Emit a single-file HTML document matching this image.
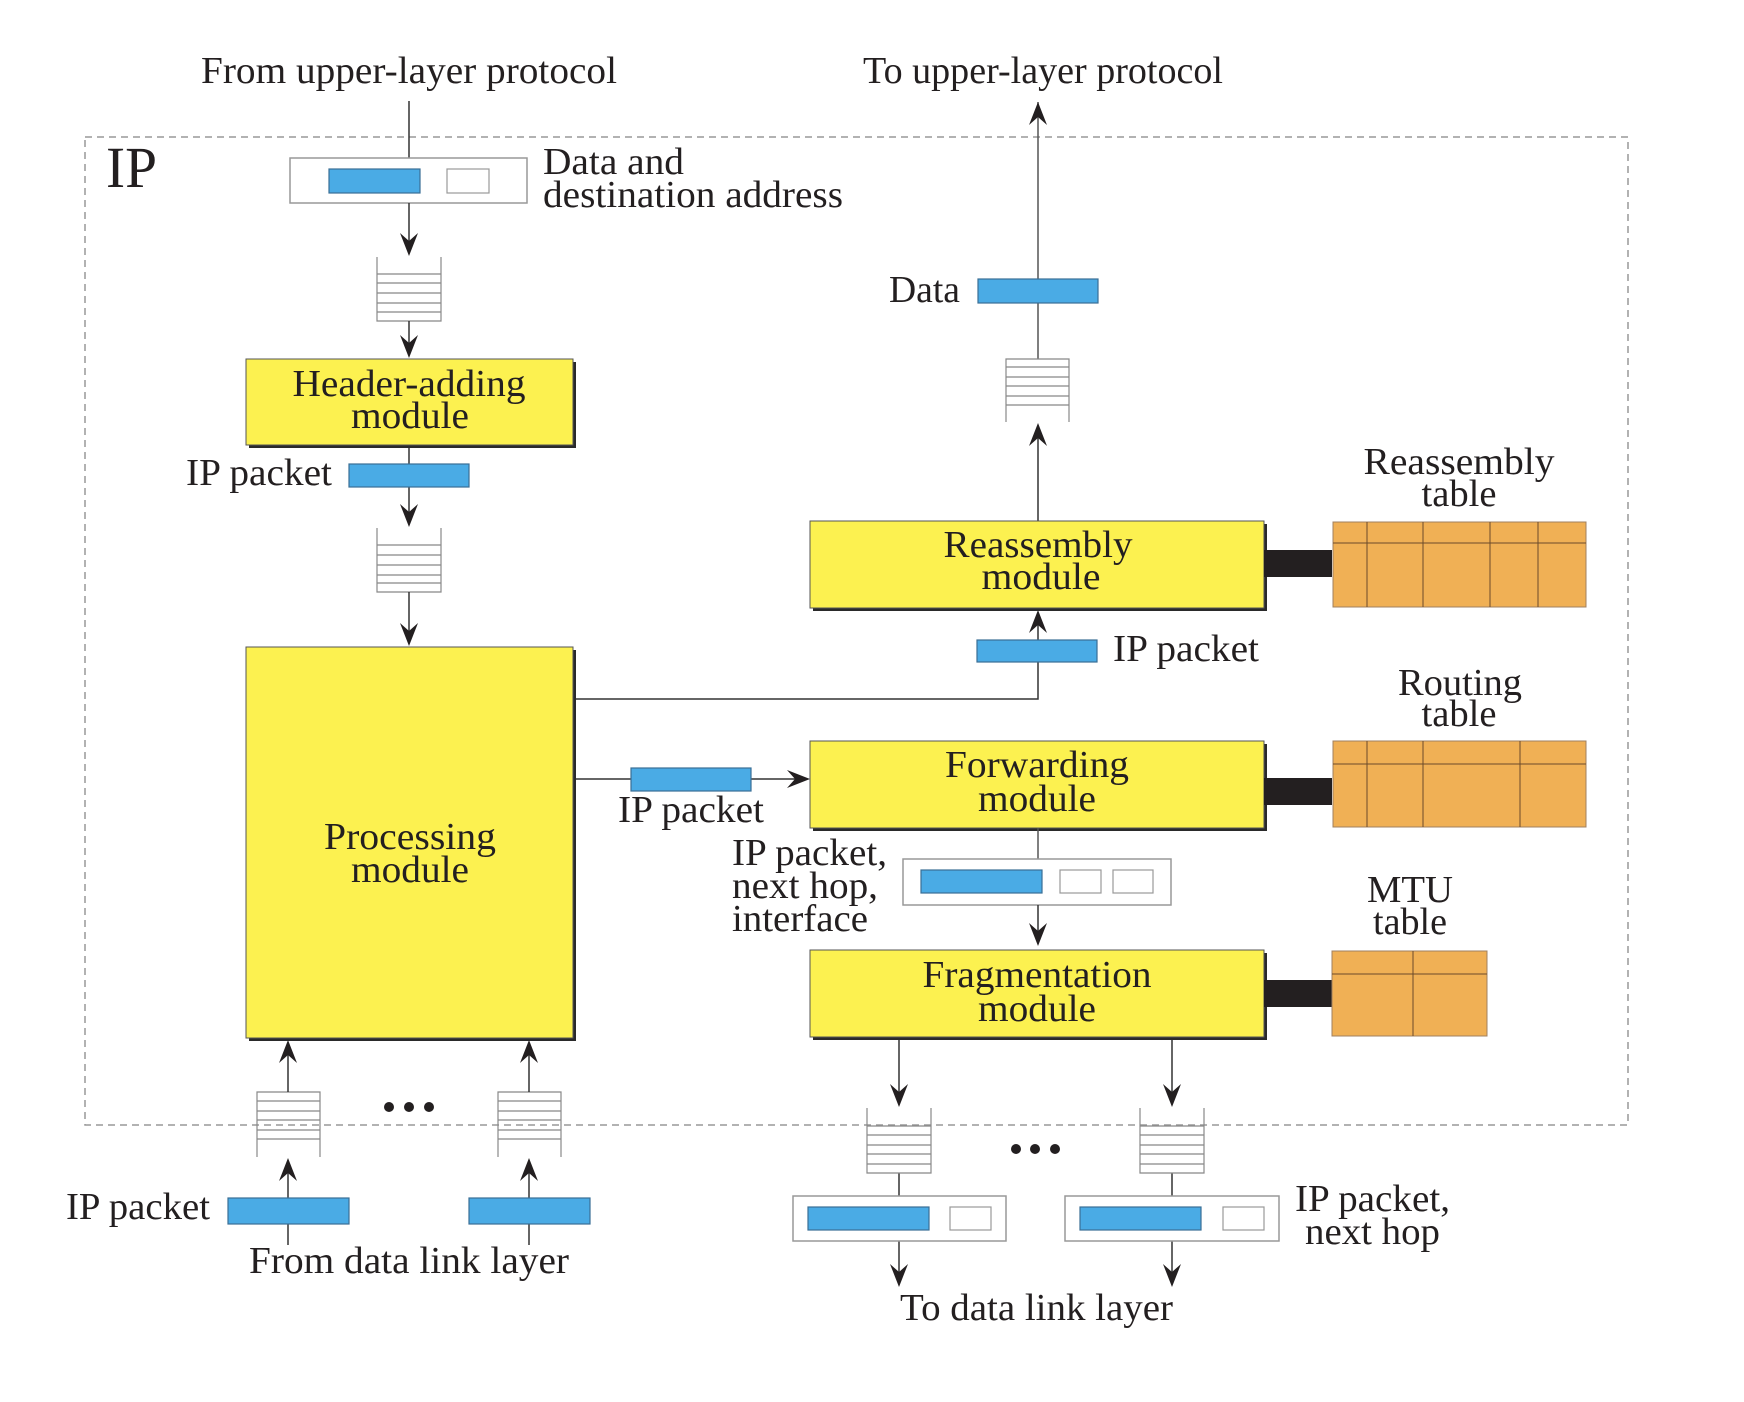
<!DOCTYPE html>
<html><head><meta charset="utf-8"><style>
html,body{margin:0;padding:0;background:#fff;}
svg{display:block;}
text{font-family:"Liberation Serif",serif;font-size:38px;fill:#231f20;}
</style></head><body>
<svg width="1744" height="1402" viewBox="0 0 1744 1402" xmlns="http://www.w3.org/2000/svg">
<defs>
<g id="ad"><path d="M0,0 L-9,-23 L0,-15 L9,-23 Z" fill="#231f20"/></g>
<g id="au"><path d="M0,0 L-9,23 L0,15 L9,23 Z" fill="#231f20"/></g>
<g id="ar"><path d="M0,0 L-23,-9 L-15,0 L-23,9 Z" fill="#231f20"/></g>
</defs>

<rect x="85" y="137" width="1543" height="988" fill="none" stroke="#999" stroke-width="1.5" stroke-dasharray="7,5"/>
<text x="106" y="187" style="font-size:58px" textLength="51" lengthAdjust="spacingAndGlyphs">IP</text>

<text x="201" y="83" textLength="416" lengthAdjust="spacingAndGlyphs">From upper-layer protocol</text>
<text x="863" y="83" textLength="360" lengthAdjust="spacingAndGlyphs">To upper-layer protocol</text>

<line x1="409" y1="101" x2="409" y2="158" stroke="#333" stroke-width="1.5"/>
<rect x="290" y="158" width="237" height="45" fill="#fff" stroke="#999" stroke-width="1.5"/>
<rect x="329" y="169" width="91" height="24" fill="#4aabe5" stroke="#3a6f95" stroke-width="1.2"/>
<rect x="447" y="169" width="42" height="24" fill="#fff" stroke="#999" stroke-width="1.2"/>
<text x="543" y="174" textLength="141" lengthAdjust="spacingAndGlyphs">Data and</text>
<text x="543" y="207" textLength="300" lengthAdjust="spacingAndGlyphs">destination address</text>
<line x1="409" y1="203" x2="409" y2="250" stroke="#333" stroke-width="1.5"/>
<use href="#ad" x="409" y="256"/>
<g stroke="#888" stroke-width="1.2" fill="none">
<path d="M377,257 V321 H441 V257"/>
<path d="M377,274 H441 M377,283 H441 M377,293 H441 M377,303 H441 M377,312 H441"/>
</g>
<line x1="409" y1="321" x2="409" y2="352" stroke="#333" stroke-width="1.5"/>
<use href="#ad" x="409" y="358"/>
<rect x="249" y="362" width="327" height="86" fill="#2a2a2a"/>
<rect x="246" y="359" width="327" height="86" fill="#fcf150" stroke="#555" stroke-width="1"/>
<text x="409" y="396" text-anchor="middle" textLength="233" lengthAdjust="spacingAndGlyphs">Header-adding</text>
<text x="410" y="428" text-anchor="middle" textLength="118" lengthAdjust="spacingAndGlyphs">module</text>
<line x1="409" y1="448" x2="409" y2="520" stroke="#333" stroke-width="1.5"/>
<rect x="349" y="464" width="120" height="23" fill="#4aabe5" stroke="#3a6f95" stroke-width="1.2"/>
<text x="186" y="485" textLength="146" lengthAdjust="spacingAndGlyphs">IP packet</text>
<use href="#ad" x="409" y="527"/>
<g stroke="#888" stroke-width="1.2" fill="none">
<path d="M377,528 V592 H441 V528"/>
<path d="M377,545 H441 M377,555 H441 M377,565 H441 M377,575 H441 M377,583 H441"/>
</g>
<line x1="409" y1="592" x2="409" y2="640" stroke="#333" stroke-width="1.5"/>
<use href="#ad" x="409" y="646"/>

<rect x="249" y="650" width="327" height="391" fill="#2a2a2a"/>
<rect x="246" y="647" width="327" height="391" fill="#fcf150" stroke="#555" stroke-width="1"/>
<text x="410" y="849" text-anchor="middle" textLength="172" lengthAdjust="spacingAndGlyphs">Processing</text>
<text x="410" y="882" text-anchor="middle" textLength="118" lengthAdjust="spacingAndGlyphs">module</text>

<g stroke="#888" stroke-width="1.2" fill="none">
<path d="M257,1157 V1092 H320 V1157"/>
<path d="M257,1101 H320 M257,1111 H320 M257,1120 H320 M257,1130 H320 M257,1139 H320"/>
<path d="M498,1157 V1092 H561 V1157"/>
<path d="M498,1101 H561 M498,1111 H561 M498,1120 H561 M498,1130 H561 M498,1139 H561"/>
</g>
<g stroke="#333" stroke-width="1.5">
<line x1="288" y1="1046" x2="288" y2="1092"/>
<line x1="529" y1="1046" x2="529" y2="1092"/>
<line x1="288" y1="1164" x2="288" y2="1245"/>
<line x1="529" y1="1164" x2="529" y2="1245"/>
</g>
<use href="#au" x="288" y="1040"/>
<use href="#au" x="529" y="1040"/>
<use href="#au" x="288" y="1158"/>
<use href="#au" x="529" y="1158"/>
<circle cx="389" cy="1107" r="5" fill="#231f20"/>
<circle cx="409" cy="1107" r="5" fill="#231f20"/>
<circle cx="429" cy="1107" r="5" fill="#231f20"/>
<rect x="228" y="1198" width="121" height="26" fill="#4aabe5" stroke="#3a6f95" stroke-width="1.2"/>
<rect x="469" y="1198" width="121" height="26" fill="#4aabe5" stroke="#3a6f95" stroke-width="1.2"/>
<text x="66" y="1219" textLength="144" lengthAdjust="spacingAndGlyphs">IP packet</text>
<text x="249" y="1273" textLength="320" lengthAdjust="spacingAndGlyphs">From data link layer</text>

<path d="M576,699 H1038 V616" fill="none" stroke="#333" stroke-width="1.5"/>
<use href="#au" x="1038" y="610"/>
<rect x="977" y="640" width="120" height="22" fill="#4aabe5" stroke="#3a6f95" stroke-width="1.2"/>
<text x="1113" y="661" textLength="146" lengthAdjust="spacingAndGlyphs">IP packet</text>

<line x1="576" y1="779" x2="800" y2="779" stroke="#333" stroke-width="1.5"/>
<use href="#ar" x="810" y="779"/>
<rect x="631" y="768" width="120" height="23" fill="#4aabe5" stroke="#3a6f95" stroke-width="1.2"/>
<text x="618" y="822" textLength="146" lengthAdjust="spacingAndGlyphs">IP packet</text>

<line x1="1038" y1="102" x2="1038" y2="359" stroke="#555" stroke-width="1.5"/>
<use href="#au" x="1038" y="102"/>
<rect x="978" y="279" width="120" height="24" fill="#4aabe5" stroke="#3a6f95" stroke-width="1.2"/>
<text x="889" y="302" textLength="71" lengthAdjust="spacingAndGlyphs">Data</text>
<g stroke="#888" stroke-width="1.2" fill="none">
<path d="M1006,422 V359 H1069 V422"/>
<path d="M1006,367 H1069 M1006,377 H1069 M1006,386 H1069 M1006,396 H1069 M1006,405 H1069"/>
</g>
<line x1="1038" y1="430" x2="1038" y2="521" stroke="#333" stroke-width="1.5"/>
<use href="#au" x="1038" y="423"/>

<rect x="813" y="524" width="454" height="87" fill="#2a2a2a"/>
<rect x="810" y="521" width="454" height="87" fill="#fcf150" stroke="#555" stroke-width="1"/>
<text x="1038" y="557" text-anchor="middle" textLength="189" lengthAdjust="spacingAndGlyphs">Reassembly</text>
<text x="1041" y="589" text-anchor="middle" textLength="119" lengthAdjust="spacingAndGlyphs">module</text>
<rect x="1264" y="550" width="68" height="27" fill="#231f20"/>
<rect x="1333" y="522" width="253" height="85" fill="#f0b055" stroke="#a08060" stroke-width="1"/>
<g stroke="#6b4a2a" stroke-width="1">
<line x1="1333" y1="543" x2="1586" y2="543"/>
<line x1="1367" y1="522" x2="1367" y2="607"/>
<line x1="1423" y1="522" x2="1423" y2="607"/>
<line x1="1490" y1="522" x2="1490" y2="607"/>
<line x1="1538" y1="522" x2="1538" y2="607"/>
</g>
<text x="1459" y="474" text-anchor="middle" textLength="191" lengthAdjust="spacingAndGlyphs">Reassembly</text>
<text x="1459" y="506" text-anchor="middle" textLength="75" lengthAdjust="spacingAndGlyphs">table</text>

<rect x="813" y="744" width="454" height="87" fill="#2a2a2a"/>
<rect x="810" y="741" width="454" height="87" fill="#fcf150" stroke="#555" stroke-width="1"/>
<text x="1037" y="777" text-anchor="middle" textLength="184" lengthAdjust="spacingAndGlyphs">Forwarding</text>
<text x="1037" y="811" text-anchor="middle" textLength="118" lengthAdjust="spacingAndGlyphs">module</text>
<rect x="1264" y="778" width="68" height="27" fill="#231f20"/>
<rect x="1333" y="741" width="253" height="86" fill="#f0b055" stroke="#a08060" stroke-width="1"/>
<g stroke="#6b4a2a" stroke-width="1">
<line x1="1333" y1="764" x2="1586" y2="764"/>
<line x1="1367" y1="741" x2="1367" y2="827"/>
<line x1="1423" y1="741" x2="1423" y2="827"/>
<line x1="1520" y1="741" x2="1520" y2="827"/>
</g>
<text x="1460" y="695" text-anchor="middle" textLength="124" lengthAdjust="spacingAndGlyphs">Routing</text>
<text x="1459" y="726" text-anchor="middle" textLength="75" lengthAdjust="spacingAndGlyphs">table</text>

<line x1="1038" y1="828" x2="1038" y2="859" stroke="#555" stroke-width="1.5"/>
<rect x="903" y="859" width="268" height="46" fill="#fff" stroke="#999" stroke-width="1.5"/>
<rect x="921" y="870" width="121" height="23" fill="#4aabe5" stroke="#3a6f95" stroke-width="1.2"/>
<rect x="1060" y="870" width="41" height="23" fill="#fff" stroke="#999" stroke-width="1.2"/>
<rect x="1113" y="870" width="40" height="23" fill="#fff" stroke="#999" stroke-width="1.2"/>
<line x1="1038" y1="905" x2="1038" y2="940" stroke="#333" stroke-width="1.5"/>
<use href="#ad" x="1038" y="946"/>
<text x="732" y="865" textLength="155" lengthAdjust="spacingAndGlyphs">IP packet,</text>
<text x="732" y="898" textLength="146" lengthAdjust="spacingAndGlyphs">next hop,</text>
<text x="732" y="931" textLength="136" lengthAdjust="spacingAndGlyphs">interface</text>

<rect x="813" y="953" width="454" height="87" fill="#2a2a2a"/>
<rect x="810" y="950" width="454" height="87" fill="#fcf150" stroke="#555" stroke-width="1"/>
<text x="1037" y="987" text-anchor="middle" textLength="229" lengthAdjust="spacingAndGlyphs">Fragmentation</text>
<text x="1037" y="1021" text-anchor="middle" textLength="118" lengthAdjust="spacingAndGlyphs">module</text>
<rect x="1264" y="980" width="68" height="27" fill="#231f20"/>
<rect x="1332" y="951" width="155" height="85" fill="#f0b055" stroke="#a08060" stroke-width="1"/>
<g stroke="#6b4a2a" stroke-width="1">
<line x1="1332" y1="974" x2="1487" y2="974"/>
<line x1="1413" y1="951" x2="1413" y2="1036"/>
</g>
<text x="1410" y="902" text-anchor="middle" textLength="86" lengthAdjust="spacingAndGlyphs">MTU</text>
<text x="1410" y="934" text-anchor="middle" textLength="74" lengthAdjust="spacingAndGlyphs">table</text>

<g stroke="#333" stroke-width="1.5">
<line x1="899" y1="1040" x2="899" y2="1101"/>
<line x1="1172" y1="1040" x2="1172" y2="1101"/>
<line x1="899" y1="1173" x2="899" y2="1196"/>
<line x1="1172" y1="1173" x2="1172" y2="1196"/>
<line x1="899" y1="1241" x2="899" y2="1281"/>
<line x1="1172" y1="1241" x2="1172" y2="1281"/>
</g>
<use href="#ad" x="899" y="1107"/>
<use href="#ad" x="1172" y="1107"/>
<use href="#ad" x="899" y="1287"/>
<use href="#ad" x="1172" y="1287"/>
<g stroke="#888" stroke-width="1.2" fill="none">
<path d="M867,1108 V1173 H931 V1108"/>
<path d="M867,1126 H931 M867,1135 H931 M867,1145 H931 M867,1154 H931 M867,1164 H931"/>
<path d="M1140,1108 V1173 H1204 V1108"/>
<path d="M1140,1126 H1204 M1140,1135 H1204 M1140,1145 H1204 M1140,1154 H1204 M1140,1164 H1204"/>
</g>
<circle cx="1016" cy="1149" r="5" fill="#231f20"/>
<circle cx="1035" cy="1149" r="5" fill="#231f20"/>
<circle cx="1055" cy="1149" r="5" fill="#231f20"/>
<rect x="793" y="1196" width="213" height="45" fill="#fff" stroke="#999" stroke-width="1.5"/>
<rect x="808" y="1207" width="121" height="23" fill="#4aabe5" stroke="#3a6f95" stroke-width="1.2"/>
<rect x="950" y="1207" width="41" height="23" fill="#fff" stroke="#999" stroke-width="1.2"/>
<rect x="1065" y="1196" width="214" height="45" fill="#fff" stroke="#999" stroke-width="1.5"/>
<rect x="1080" y="1207" width="121" height="23" fill="#4aabe5" stroke="#3a6f95" stroke-width="1.2"/>
<rect x="1223" y="1207" width="41" height="23" fill="#fff" stroke="#999" stroke-width="1.2"/>
<text x="1295" y="1211" textLength="155" lengthAdjust="spacingAndGlyphs">IP packet,</text>
<text x="1305" y="1244" textLength="135" lengthAdjust="spacingAndGlyphs">next hop</text>
<text x="900" y="1320" textLength="273" lengthAdjust="spacingAndGlyphs">To data link layer</text>
</svg>
</body></html>
